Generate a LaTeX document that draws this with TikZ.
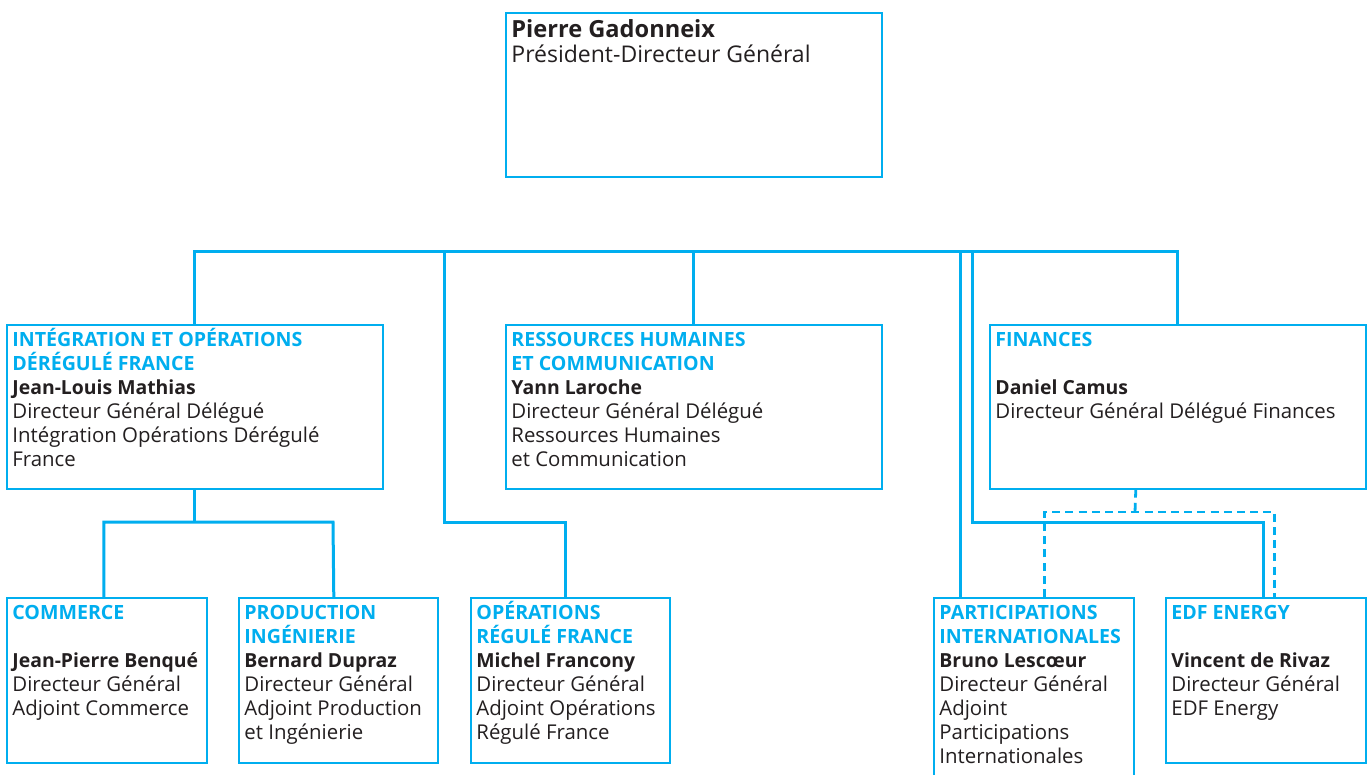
\documentclass[tikz,border=0pt]{standalone}
\usepackage{fontspec}
\setmainfont{Open Sans}
\usetikzlibrary{calc}
\definecolor{eblue}{RGB}{0,174,239}
\definecolor{etext}{RGB}{35,31,32}
\newcommand\orghead[1]{{\fontsize{9.8}{12}\selectfont\bfseries\color{eblue}#1}}
\newcommand\orgname[1]{{\fontsize{9.7}{12}\selectfont\bfseries #1}}
\newcommand\firststrut{\rule{0pt}{10pt}}
\tikzset{
  box/.style={draw=eblue, line width=0.8pt, anchor=north west, inner sep=0pt},
  txt/.style={anchor=north west, align=left, inner sep=0pt, text=etext,
    font=\fontsize{10.2}{12}\selectfont},
  conn/.style={draw=eblue, line width=1.5pt},
  dconn/.style={draw=eblue, line width=1.4pt, dash pattern=on 4pt off 2.6pt},
}
\begin{document}
\begin{tikzpicture}[x=0.5pt, y=-0.5pt]
\clip (0,0) rectangle (1370,775);
\fill[white] (0,0) rectangle (1370,775);
% boxes
\node[box, minimum width=188pt, minimum height=82pt] (top) at (505,12) {};
\node[box, minimum width=188pt, minimum height=82pt] (int) at (6,324) {};
\node[box, minimum width=188pt, minimum height=82pt] (rh) at (505,324) {};
\node[box, minimum width=188pt, minimum height=82pt] (fin) at (989,324) {};
\node[box, minimum width=100pt, minimum height=82.5pt] (com) at (6,597) {};
\node[box, minimum width=99.5pt, minimum height=82.5pt] (prod) at (238,597) {};
\node[box, minimum width=99.5pt, minimum height=82.5pt] (ops) at (470,597) {};
\node[box, minimum width=100pt, minimum height=100pt] (part) at (933,597) {};
\node[box, minimum width=100pt, minimum height=82.5pt] (edf) at (1165,597) {};
% texts
\node[txt, font=\fontsize{11.5}{12.5}\selectfont] (ttop) at (511,15) {\rule{0pt}{11pt}{\bfseries\fontsize{11.8}{12.5}\selectfont Pierre Gadonneix}\\Président-Directeur Général};
\node[txt] (tint) at (12,326) {\firststrut\orghead{INTÉGRATION ET OPÉRATIONS}\\\orghead{DÉRÉGULÉ FRANCE}\\\orgname{Jean-Louis Mathias}\\Directeur Général Délégué\\Intégration Opérations Dérégulé\\France};
\node[txt] (trh) at (511,326) {\firststrut\orghead{RESSOURCES HUMAINES}\\\orghead{ET COMMUNICATION}\\\orgname{Yann Laroche}\\Directeur Général Délégué\\Ressources Humaines\\et Communication};
\node[txt] (tfin) at (995,326) {\firststrut\orghead{FINANCES}\\~\\\orgname{Daniel Camus}\\Directeur Général Délégué Finances};
\node[txt] (tcom) at (12,599) {\firststrut\orghead{COMMERCE}\\~\\\orgname{Jean-Pierre Benqué}\\Directeur Général\\Adjoint Commerce};
\node[txt] (tprod) at (244,599) {\firststrut\orghead{PRODUCTION}\\\orghead{INGÉNIERIE}\\\orgname{Bernard Dupraz}\\Directeur Général\\Adjoint Production\\et Ingénierie};
\node[txt] (tops) at (476,599) {\firststrut\orghead{OPÉRATIONS}\\\orghead{RÉGULÉ FRANCE}\\\orgname{Michel Francony}\\Directeur Général\\Adjoint Opérations\\Régulé France};
\node[txt] (tpart) at (939,599) {\firststrut\orghead{PARTICIPATIONS}\\\orghead{INTERNATIONALES}\\\orgname{Bruno Lescœur}\\Directeur Général\\Adjoint\\Participations\\Internationales};
\node[txt] (tedf) at (1171,599) {\firststrut\orghead{EDF ENERGY}\\~\\\orgname{Vincent de Rivaz}\\Directeur Général\\EDF Energy};
% connectors
\coordinate (bL) at (194,252);
\coordinate (bO) at (444,252);
\coordinate (bO2) at (444,522);
\coordinate (bP) at (960,252);
\coordinate (bE) at (972,252);
\coordinate (bE2) at (972,522);
\coordinate (iR) at (333,522);
\draw[conn] (int.north) -- (int.north |- bL) -- (bL -| fin.north) -- (fin.north);
\draw[conn] (rh.north) -- (rh.north |- bL);
\draw[conn] (bO) -- (bO2) -| ($(ops.north)+(-4.5,0)$);
\draw[conn] (bP) -- ($(part.north west)+(27,0)$);
\draw[conn] (bE) -- (bE2) -| ($(edf.north)+(-2,0)$);
\draw[conn] (int.south) -- (int.south |- iR);
\draw[conn] ($(com.north)+(-3,0)$) |- (iR) -- ($(prod.north)+(-4.5,0)$);
\coordinate (dj) at (1135,512);
\draw[dconn] ($(fin.south)+(-42,0)$) -- (dj);
\draw[dconn] ($(part.north)+(11,0)$) |- (dj) -| ($(edf.north)+(9,0)$);
\end{tikzpicture}
\end{document}
